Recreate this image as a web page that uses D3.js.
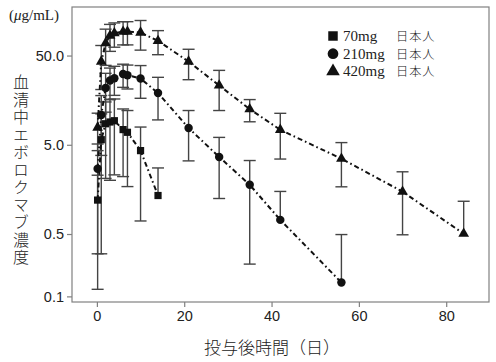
<!DOCTYPE html>
<html>
<head>
<meta charset="utf-8">
<script src="https://cdn.jsdelivr.net/npm/d3@7"></script>
<style>
  body { margin: 0; background: #fff; }
  svg { display: block; }
  .axis path, .axis line { stroke: #808080; stroke-width: 1.2; }
  .axis text { font-family: "Liberation Sans", Arial, sans-serif; font-size: 14.5px; fill: #222; }
</style>
</head>
<body>
<div id="chart"></div>
<script>
// sampling days after dose
var days70 = [0.17, 1, 2, 3, 4, 6, 7, 10, 14];
var mean70 = [1.2, 5.7, 8.6, 9.0, 9.3, 7.4, 6.9, 4.3, 1.35];
var sd70 = [1.08, 5.4, 6.5, 7.0, 7.0, 5.2, 5.2, 3.6, 1.4];

var days210 = [0.17, 1, 2, 3, 4, 6, 7, 10, 14, 21, 28, 35, 42, 56];
var mean210 = [2.7, 10.8, 21.6, 26.2, 27.9, 31.0, 30.1, 27.6, 19.0, 7.7, 3.65, 1.78, 0.72, 0.143];
var sd210 = [2.4, 7, 10, 10, 10, 9, 9, 11, 9.5, 4.4, 2.4, 1.55, 0.78, 0.35];

var days420 = [0.17, 1, 2, 3, 4, 6, 7, 10, 14, 21, 28, 35, 42, 56, 70, 84];
var mean420 = [7.8, 42.8, 68.8, 83.7, 89.0, 92.8, 92.8, 90.5, 73.1, 42.8, 23.1, 12.55, 7.36, 3.49, 1.49, 0.504];
var sd420 = [3.5, 22, 30, 28, 27, 27, 27, 33, 22, 16, 11, 3.5, 3.9, 1.8, 1.0, 0.66];

var seriesNames = ["70mg", "210mg", "420mg"];
var groupLabel = "日本人";
var xTicks = [0, 20, 40, 60, 80];
var yTicks = [0.1, 0.5, 5, 50];
var yTitle = "血清中エボロクマブ濃度";
var xTitle = "投与後時間（日）";

var W = 496, H = 362;
var svg = d3.select("#chart").append("svg")
    .attr("width", W)
    .attr("height", H);

// plot frame
var plotL = 72, plotR = 489, plotT = 7, plotB = 302;

var x = d3.scaleLinear()
    .domain([-5.7, 89.8])
    .range([plotL, plotR]);

var y = d3.scaleLog()
    .domain([0.0865, 175])
    .range([plotB, plotT]);

var series = [
  {name: seriesNames[0], days: days70, mean: mean70, sd: sd70, shape: d3.symbolSquare, size: 52},
  {name: seriesNames[1], days: days210, mean: mean210, sd: sd210, shape: d3.symbolCircle, size: 56},
  {name: seriesNames[2], days: days420, mean: mean420, sd: sd420, shape: d3.symbolTriangle, size: 50}
];

series.forEach(function(s) {
  s.points = s.days.map(function(d, i) {
    return {day: d, mean: s.mean[i], sd: s.sd[i]};
  });
});

// frame box
svg.append("rect")
    .attr("x", plotL)
    .attr("y", plotT)
    .attr("width", plotR - plotL)
    .attr("height", plotB - plotT)
    .attr("fill", "none")
    .attr("stroke", "#808080")
    .attr("stroke-width", 1.2);

// axes
svg.append("g")
    .attr("class", "axis")
    .attr("transform", "translate(0," + plotB + ")")
    .call(d3.axisBottom(x).tickValues(xTicks).tickSize(5).tickPadding(4).tickFormat(d3.format("d")))
    .call(function(g) { g.select(".domain").remove(); });

svg.append("g")
    .attr("class", "axis")
    .attr("transform", "translate(" + plotL + ",0)")
    .call(d3.axisLeft(y).tickValues(yTicks).tickSize(5).tickPadding(3).tickFormat(d3.format(".1f")))
    .call(function(g) { g.select(".domain").remove(); });

// error bars (mean ± SD, lower bar dropped when it goes below zero)
var capW = 6;
series.forEach(function(s) {
  var g = svg.append("g").attr("class", "errbars")
      .attr("stroke", "#444")
      .attr("stroke-width", 1.4)
      .attr("fill", "none");
  s.points.forEach(function(p) {
    var cx = x(p.day);
    var hi = p.mean + p.sd;
    var lo = p.mean - p.sd;
    var yLo = lo > 0 ? y(lo) : y(p.mean);
    g.append("line")
        .attr("x1", cx).attr("x2", cx)
        .attr("y1", y(hi)).attr("y2", yLo);
    g.append("line")
        .attr("x1", cx - capW).attr("x2", cx + capW)
        .attr("y1", y(hi)).attr("y2", y(hi));
    if (lo > 0) {
      g.append("line")
          .attr("x1", cx - capW).attr("x2", cx + capW)
          .attr("y1", y(lo)).attr("y2", y(lo));
    }
  });
});

// dash-dot lines
var line = d3.line()
    .x(function(d) { return x(d.day); })
    .y(function(d) { return y(d.mean); });

series.forEach(function(s) {
  svg.append("path")
      .datum(s.points)
      .attr("fill", "none")
      .attr("stroke", "#111")
      .attr("stroke-width", 2)
      .attr("stroke-dasharray", "5,3,1.6,3")
      .attr("d", line);
});

// markers
series.forEach(function(s) {
  svg.append("g").selectAll("path")
      .data(s.points)
      .enter()
      .append("path")
      .attr("transform", function(d) { return "translate(" + x(d.day) + "," + y(d.mean) + ")"; })
      .attr("d", d3.symbol().type(s.shape).size(s.size))
      .attr("fill", "#111");
});

// legend
var legend = svg.append("g").attr("class", "legend");
series.forEach(function(s, i) {
  var ly = 36 + i * 17.7;
  legend.append("path")
      .attr("transform", "translate(333," + ly + ")")
      .attr("d", d3.symbol().type(s.shape).size(s.shape === d3.symbolTriangle ? 80 : 90))
      .attr("fill", "#111");
  legend.append("text")
      .attr("x", 343)
      .attr("y", ly + 5)
      .attr("font-family", "'Liberation Serif', 'Times New Roman', serif")
      .attr("font-size", 15)
      .attr("fill", "#222")
      .text(s.name);
  legend.append("text")
      .attr("x", 396)
      .attr("y", ly + 5)
      .attr("font-family", "'Noto Sans CJK JP', sans-serif")
      .attr("font-size", 12.2)
      .attr("font-weight", 300)
      .attr("fill", "#222")
      .style("letter-spacing", "1px")
      .text(groupLabel);
});

// unit label
var unit = svg.append("text")
    .attr("x", 9)
    .attr("y", 20)
    .attr("font-family", "'Liberation Serif', serif")
    .attr("font-size", 15)
    .attr("fill", "#222");
unit.append("tspan").text("(");
unit.append("tspan").attr("font-style", "italic").text("μ");
unit.append("tspan").text("g/mL)");

// y title, vertical writing
svg.append("text")
    .attr("x", 21)
    .attr("y", 74)
    .attr("font-family", "'Noto Sans CJK JP', sans-serif")
    .attr("font-size", 16)
    .attr("font-weight", 300)
    .attr("fill", "#222")
    .style("writing-mode", "vertical-rl")
    .style("letter-spacing", "1.5px")
    .text(yTitle);

// x title
svg.append("text")
    .attr("x", 272)
    .attr("y", 354)
    .attr("text-anchor", "middle")
    .attr("font-family", "'Noto Sans CJK JP', sans-serif")
    .attr("font-size", 17)
    .attr("font-weight", 300)
    .attr("fill", "#222")
    .text(xTitle);
</script>
</body>
</html>
